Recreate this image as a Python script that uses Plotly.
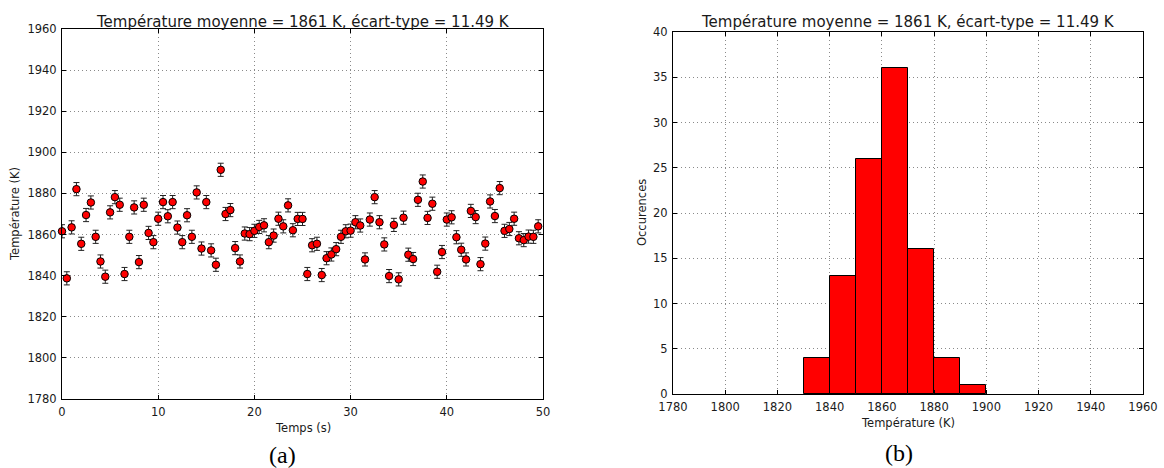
import plotly.graph_objects as go

# ---- data ----
time_s = [i * 0.5 for i in range(100)]
temperature_K = [
    1861.6, 1838.7, 1863.5, 1882.1, 1855.5, 1869.5, 1875.6, 1858.9, 1846.9, 1839.5,
    1870.8, 1878.2, 1874.5, 1840.8, 1858.9, 1873.2, 1846.6, 1874.5, 1860.8, 1856.3,
    1867.7, 1875.8, 1868.9, 1875.8, 1863.4, 1856.3, 1869.4, 1858.9, 1880.5, 1853.2,
    1875.8, 1852.3, 1845.3, 1891.5, 1870.0, 1871.9, 1853.4, 1846.9, 1860.5, 1860.2,
    1861.8, 1863.7, 1864.5, 1856.3, 1859.5, 1867.7, 1864.0, 1874.2, 1862.1, 1867.6,
    1867.6, 1840.8, 1854.8, 1855.5, 1840.3, 1848.5, 1850.3, 1852.9, 1858.9, 1861.6,
    1861.9, 1866.0, 1864.4, 1847.9, 1867.3, 1878.2, 1866.0, 1855.2, 1839.8, 1864.7,
    1838.2, 1868.2, 1850.2, 1848.1, 1876.9, 1885.8, 1868.1, 1875.0, 1841.9, 1851.5,
    1867.3, 1868.4, 1858.7, 1852.6, 1847.9, 1871.5, 1868.5, 1845.6, 1855.6, 1876.1,
    1869.0, 1882.6, 1861.8, 1862.7, 1867.7, 1858.2, 1857.3, 1859.0, 1858.9, 1864.0,
]
error_K = 3.2

bin_left = [1830, 1840, 1850, 1860, 1870, 1880, 1890]
bin_counts = [4, 13, 26, 36, 16, 4, 1]
bin_width = 10

title_text = "Température moyenne = 1861 K, écart-type = 11.49 K"

# ---- layout geometry (pixels) ----
W, H = 1164, 468
L1, R1, T1, B1 = 62, 543, 29, 399
L2, R2, T2, B2 = 673, 1143, 32, 394


def px(x):
    return x / W


def py(y):
    return 1 - y / H


FONT = "DejaVu Sans"
TICKFONT = dict(family=FONT, size=11.5, color="#1a1a1a")

fig = go.Figure()

fig.add_trace(go.Scatter(
    x=time_s, y=temperature_K, mode="markers",
    marker=dict(color="#ff0000", size=7.5, line=dict(color="#000", width=1)),
    error_y=dict(type="constant", value=error_K, color="#222", thickness=1, width=3),
    xaxis="x", yaxis="y", showlegend=False, cliponaxis=False,
))

fig.add_trace(go.Bar(
    x=bin_left, y=bin_counts, width=bin_width, offset=0,
    marker=dict(color="#ff0000", line=dict(color="#000", width=1)),
    xaxis="x2", yaxis="y2", showlegend=False,
))

axis_common = dict(
    showline=True, linecolor="#000", linewidth=1, mirror="ticks",
    ticks="inside", ticklen=4, tickcolor="#000", tickwidth=1,
    showgrid=True, gridcolor="#8a8a8a", griddash="1px,3px", gridwidth=1,
    zeroline=False, tickfont=TICKFONT, automargin=False,
)

fig.update_layout(
    width=W, height=H, autosize=False,
    margin=dict(l=0, r=0, t=0, b=0, autoexpand=False),
    paper_bgcolor="white", plot_bgcolor="white",
    xaxis=dict(domain=[px(L1), px(R1)], range=[0, 50], dtick=10, anchor="y",
               ticklabelstandoff=2, **axis_common),
    yaxis=dict(domain=[py(B1), py(T1)], range=[1780, 1960], dtick=20, anchor="x",
               ticklabelstandoff=2, **axis_common),
    xaxis2=dict(domain=[px(L2), px(R2)], range=[1780, 1960], dtick=20, anchor="y2",
                ticklabelstandoff=2, **axis_common),
    yaxis2=dict(domain=[py(B2), py(T2)], range=[0, 40], dtick=5, anchor="x2",
                ticklabelstandoff=2, **axis_common),
    bargap=0,
)

ann = []
# titles
for cx in ((L1 + R1) / 2, (L2 + R2) / 2):
    ann.append(dict(text=title_text, x=px(cx), y=py(22), xref="paper", yref="paper",
                    showarrow=False, font=dict(family=FONT, size=15, color="#1a1a1a"),
                    xanchor="center", yanchor="middle"))
# axis titles
ann.append(dict(text="Temps (s)", x=px((L1 + R1) / 2), y=py(428), xref="paper", yref="paper",
                showarrow=False, font=TICKFONT, xanchor="center", yanchor="middle"))
ann.append(dict(text="Température (K)", x=px((L2 + R2) / 2), y=py(423), xref="paper", yref="paper",
                showarrow=False, font=TICKFONT, xanchor="center", yanchor="middle"))
ann.append(dict(text="Température (K)", x=px(15), y=py((T1 + B1) / 2), xref="paper", yref="paper",
                showarrow=False, font=TICKFONT, textangle=-90, xanchor="center", yanchor="middle"))
ann.append(dict(text="Occurences", x=px(642), y=py((T2 + B2) / 2), xref="paper", yref="paper",
                showarrow=False, font=TICKFONT, textangle=-90, xanchor="center", yanchor="middle"))
# sub-figure labels
ann.append(dict(text="(a)", x=px(282), y=py(455), xref="paper", yref="paper",
                showarrow=False, font=dict(family="Liberation Serif", size=24, color="#000"),
                xanchor="center", yanchor="middle"))
ann.append(dict(text="(b)", x=px(899), y=py(453), xref="paper", yref="paper",
                showarrow=False, font=dict(family="Liberation Serif", size=24, color="#000"),
                xanchor="center", yanchor="middle"))
fig.update_layout(annotations=ann)

fig.write_html(
    "out.html",
    config={"displayModeBar": False},
    post_script="document.body.style.margin='0';document.body.style.overflow='hidden';",
)
